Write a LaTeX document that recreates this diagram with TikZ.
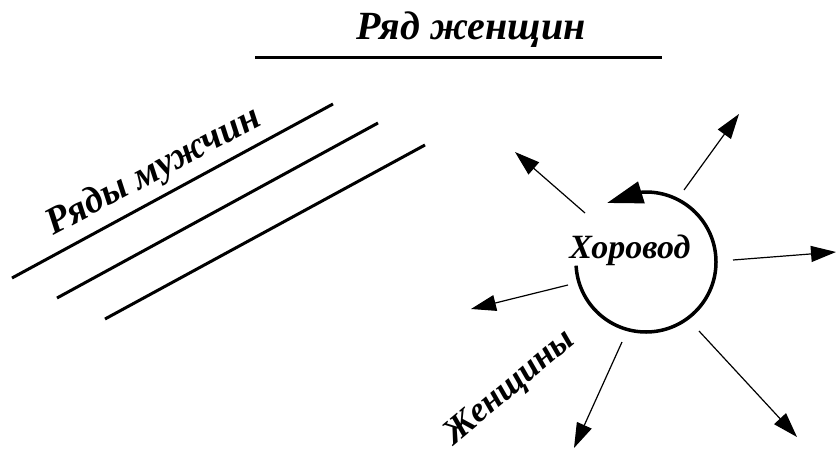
\documentclass[tikz,border=0pt]{standalone}
\usepackage{fontspec}
\setmainfont{Liberation Serif}
\usetikzlibrary{arrows.meta,calc}
\begin{document}
\begin{tikzpicture}[x=1pt,y=1pt,
  hand/.style={inner sep=0pt},
  rowline/.style={line width=3pt},
  ray/.style={line width=1.2pt, -{Triangle[length=25pt,width=16pt]}},
  ringline/.style={line width=3.5pt, line join=round, -{Triangle[length=36pt,width=22pt]}}]
\useasboundingbox (0,0) rectangle (836,-450);

% women's row at the top
\node[hand, font=\fontsize{40}{40}\bfseries\itshape] (wrow) at (471,-30) {Ряд женщин};
\coordinate (w1) at (255,-57);
\coordinate (w2) at (662,-57);
\draw[rowline] (w1) -- (w2);

% men's rows
\coordinate (m1a) at (12,-278);  \coordinate (m1b) at (333,-104);
\coordinate (m2a) at (57,-298);  \coordinate (m2b) at (378,-123);
\coordinate (m3a) at (105,-319); \coordinate (m3b) at (425,-145);
\draw[rowline] (m1a) -- (m1b);
\draw[rowline] (m2a) -- (m2b);
\draw[rowline] (m3a) -- (m3b);
\node[hand, font=\fontsize{38}{38}\bfseries\itshape, rotate=28] (mrow) at (154,-172) {Ряды мужчин};

% round dance: open ring closed by a large arrowhead
\coordinate (c) at (646,-262);
\coordinate (ringtip) at (607,-203);
\node[hand, font=\fontsize{34}{34}\bfseries\itshape] (ring) at (630,-250) {Хоровод};
\draw[ringline] ($(c)+(183:70pt)$) arc[start angle=183, end angle=453, radius=70pt] -- (ringtip);

% dancers moving outward
\coordinate (r1s) at (585,-213); \coordinate (r1e) at (515,-152);
\coordinate (r2s) at (684,-190); \coordinate (r2e) at (739,-114);
\coordinate (r3s) at (733,-260); \coordinate (r3e) at (836,-252);
\coordinate (r4s) at (568,-285); \coordinate (r4e) at (471,-309);
\coordinate (r5s) at (622,-342); \coordinate (r5e) at (574,-448);
\coordinate (r6s) at (699,-331); \coordinate (r6e) at (797,-437);
\draw[ray] (r1s) -- (r1e);
\draw[ray] (r2s) -- (r2e);
\draw[ray] (r3s) -- (r3e);
\draw[ray] (r4s) -- (r4e);
\draw[ray] (r5s) -- (r5e);
\draw[ray] (r6s) -- (r6e);

\node[hand, font=\fontsize{35}{35}\bfseries\itshape, rotate=40] (women) at (510,-388) {Женщины};
\end{tikzpicture}
\end{document}
